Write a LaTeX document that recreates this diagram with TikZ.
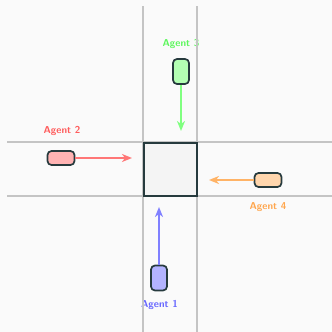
\documentclass[tikz,border=0pt]{standalone}
\usepackage{tikz}
\usetikzlibrary{arrows.meta}
\usetikzlibrary{positioning}

\definecolor{bg}{HTML}{FAFAFA}
\definecolor{road}{HTML}{C4C4C4}
\definecolor{edge}{HTML}{263A3D}
\definecolor{boxfill}{HTML}{F4F4F4}
\definecolor{blueA}{HTML}{B3B3FF}
\definecolor{blueB}{HTML}{8080FF}
\definecolor{blueC}{HTML}{6666FF}
\definecolor{redA}{HTML}{FFB3B3}
\definecolor{redB}{HTML}{FF7777}
\definecolor{redC}{HTML}{FF5C5C}
\definecolor{greenA}{HTML}{B3FFB3}
\definecolor{greenB}{HTML}{80FF80}
\definecolor{greenC}{HTML}{5CF75C}
\definecolor{orangeA}{HTML}{FFD6AD}
\definecolor{orangeB}{HTML}{FFB366}
\definecolor{orangeC}{HTML}{FFA64D}

\tikzset{
	agentv/.style={draw=edge, line width=1.7pt, rounded corners=4pt, minimum width=16pt, minimum height=25pt, inner sep=0pt},
	agenth/.style={draw=edge, line width=1.7pt, rounded corners=4pt, minimum width=27pt, minimum height=14pt, inner sep=0pt},
	move/.style={line width=1.7pt, -{Stealth[length=10pt,width=8pt,inset=3pt]}},
	tag/.style={font=\sffamily\bfseries\fontsize{10}{11}\selectfont, inner sep=0pt}
}

\begin{document}
\begin{tikzpicture}[x=1pt, y=-1pt]
	\useasboundingbox[fill=bg] (0,0) rectangle (332,332);

	\node[tag, text=blueC] at (159.5,305) (L1) {Agent 1};
	\node[tag, text=redC] at (62,131) (L2) {Agent 2};
	\node[tag, text=greenC] at (181,44) (L3) {Agent 3};
	\node[tag, text=orangeC] at (268,207) (L4) {Agent 4};

	% roads
	\draw[road, line width=2.2pt] (143,6) -- (143,332);
	\draw[road, line width=2.2pt] (197,6) -- (197,332);
	\draw[road, line width=2.2pt] (7,142) -- (332,142);
	\draw[road, line width=2.2pt] (7,196) -- (332,196);
	% crossing
	\node[draw=edge, fill=boxfill, line width=2pt, minimum width=53pt, minimum height=53pt, inner sep=0pt] at (170,169.5) (X) {};

	\node[agentv, fill=blueA] at (159,278) (A1) {};
	\node[agenth, fill=redA] at (61,158) (A2) {};
	\node[agentv, fill=greenA] at (181,71.5) (A3) {};
	\node[agenth, fill=orangeA] at (268,180) (A4) {};

	\coordinate (T1) at (159,207);
	\coordinate (T2) at (132,158);
	\coordinate (T3) at (181,131);
	\coordinate (T4) at (209,180);
	\draw[move, blueB] (A1.north) -- (T1);
	\draw[move, redB] (A2.east) -- (T2);
	\draw[move, greenB] (A3.south) -- (T3);
	\draw[move, orangeB] (A4.west) -- (T4);
\end{tikzpicture}
\end{document}
